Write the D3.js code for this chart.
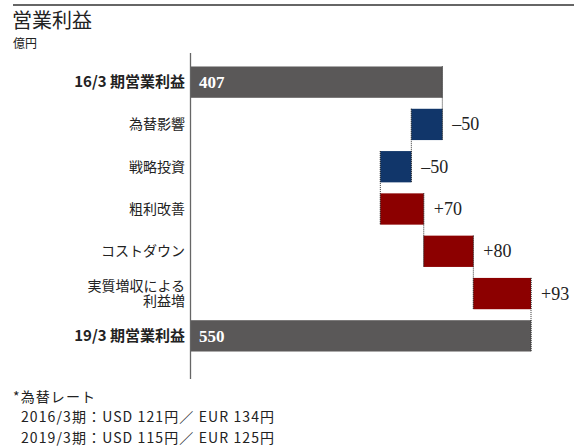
<!DOCTYPE html>
<html lang="ja">
<head>
<meta charset="utf-8">
<script src="https://cdn.jsdelivr.net/npm/d3@7"></script>
<style>
  html, body { margin: 0; padding: 0; background: #fff; }
  svg { display: block; }
  .jp { font-family: "Noto Sans CJK JP", "Noto Sans", sans-serif; }
  .num { font-family: "Liberation Serif", "DejaVu Serif", serif; }
</style>
</head>
<body>
<svg id="chart" width="574" height="447"></svg>
<script>
// Waterfall steps: category lines, kind and value (億円)
const categories = [
  ["16/3 期営業利益"],
  ["為替影響"],
  ["戦略投資"],
  ["粗利改善"],
  ["コストダウン"],
  ["実質増収による", "利益増"],
  ["19/3 期営業利益"]
];
const kinds = ["total", "delta", "delta", "delta", "delta", "delta", "total"];
const values = [407, -50, -50, 70, 80, 93, 550];
const valueLabels = ["407", "–50", "–50", "+70", "+80", "+93", "550"];
const footnotes = [
  "*為替レート",
  "2016/3期：USD 121円／ EUR 134円",
  "2019/3期：USD 115円／ EUR 125円"
];

const colors = { total: "#5a5858", neg: "#11366a", pos: "#8c0000" };

// Build start/end for each step
let running = 0;
const steps = values.map((v, i) => {
  let start, end;
  if (kinds[i] === "total") { start = 0; end = v; running = v; }
  else { start = running; end = running + v; running = end; }
  return { i, v, start, end, kind: kinds[i], cat: categories[i], label: valueLabels[i] };
});

const svg = d3.select("#chart");

// Header rule, title and unit
svg.append("line")
  .attr("x1", 13).attr("x2", 574).attr("y1", 5).attr("y2", 5)
  .attr("stroke", "#333").attr("stroke-width", 1.3);
svg.append("text").attr("class", "jp")
  .attr("x", 12).attr("y", 28).attr("font-size", 20).attr("fill", "#222")
  .text("営業利益");
svg.append("text").attr("class", "jp")
  .attr("x", 13).attr("y", 48).attr("font-size", 12).attr("fill", "#222")
  .text("億円");

const x = d3.scaleLinear().domain([0, 550]).range([190, 531]);
const y = d3.scaleBand().domain(d3.range(steps.length))
  .range([61, 357]).paddingInner(0.26).paddingOuter(0.13);

// Dotted connectors between consecutive bars
for (let k = 0; k < steps.length - 1; k++) {
  const xv = steps[k].end;
  svg.append("line")
    .attr("x1", x(xv)).attr("x2", x(xv))
    .attr("y1", y(k)).attr("y2", y(k + 1) + y.bandwidth())
    .attr("stroke", "#333").attr("stroke-width", 1)
    .attr("stroke-dasharray", "1,1");
}

// Bars
svg.append("g").selectAll("rect").data(steps).join("rect")
  .attr("x", d => x(Math.min(d.start, d.end)))
  .attr("y", d => y(d.i))
  .attr("width", d => Math.abs(x(d.end) - x(d.start)))
  .attr("height", y.bandwidth())
  .attr("fill", d => d.kind === "total" ? colors.total : (d.v < 0 ? colors.neg : colors.pos));

// Dotted edges on top of bars
steps.forEach((d, k) => {
  const edges = d.kind === "total" ? [d.end] : [d.start, d.end];
  edges.forEach(e => {
    svg.append("line")
      .attr("x1", x(e)).attr("x2", x(e))
      .attr("y1", y(k)).attr("y2", y(k) + y.bandwidth())
      .attr("stroke", "#222").attr("stroke-width", 1)
      .attr("stroke-dasharray", "1,1").attr("opacity", 0.8);
  });
});

// Axis line
svg.append("line")
  .attr("x1", 190.5).attr("x2", 190.5).attr("y1", 53).attr("y2", 379)
  .attr("stroke", "#666").attr("stroke-width", 1.3);

// Category labels
const cat = svg.append("g").selectAll("text").data(steps).join("text")
  .attr("class", "jp")
  .attr("text-anchor", "end")
  .attr("font-size", d => d.kind === "total" ? 15 : 14)
  .attr("font-weight", d => d.kind === "total" ? "bold" : "normal")
  .attr("fill", "#222");
cat.each(function(d) {
  const t = d3.select(this);
  const n = d.cat.length;
  const cy = y(d.i) + y.bandwidth() / 2;
  d.cat.forEach((line, j) => {
    t.append("tspan")
      .attr("x", 185)
      .attr("y", cy + 5 + (j - (n - 1) / 2) * 15)
      .text(line);
  });
});

// Value labels
svg.append("g").selectAll("text").data(steps).join("text")
  .attr("class", "num")
  .attr("x", d => d.kind === "total" ? x(0) + 9 : x(Math.max(d.start, d.end)) + 10)
  .attr("y", d => y(d.i) + y.bandwidth() / 2 + 6)
  .attr("font-size", d => d.kind === "total" ? 17 : 18)
  .attr("font-weight", d => d.kind === "total" ? "bold" : "normal")
  .attr("fill", d => d.kind === "total" ? "#fff" : "#222")
  .text(d => d.label);

// Footnote
svg.append("g").selectAll("text").data(footnotes).join("text")
  .attr("class", "jp")
  .attr("x", (d, i) => i === 0 ? 13 : 21)
  .attr("y", (d, i) => 401.5 + i * 20.5)
  .attr("font-size", 14)
  .attr("letter-spacing", 1.1)
  .attr("fill", "#222")
  .text(d => d);
</script>
</body>
</html>
